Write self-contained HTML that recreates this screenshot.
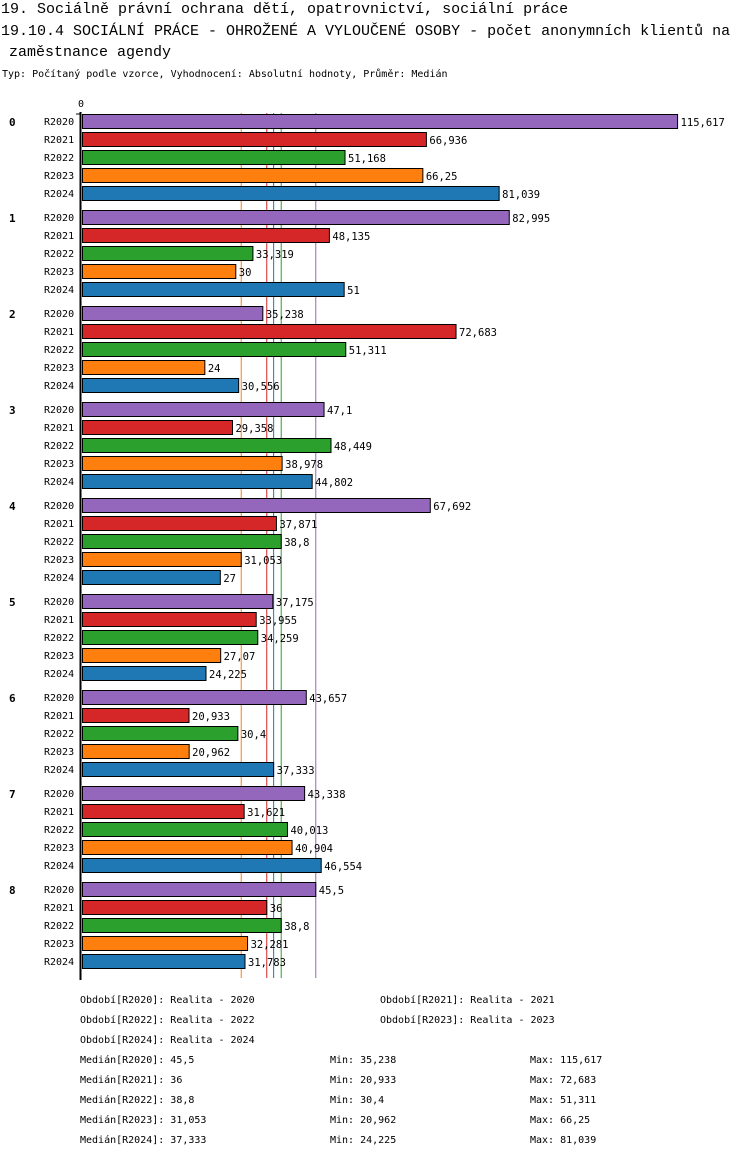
<!DOCTYPE html>
<html><head><meta charset="utf-8"><style>
body{margin:0;background:#fff;width:750px;height:1158px;overflow:hidden;font-family:"DejaVu Sans Mono","Liberation Mono",monospace;}
svg text{font-family:"DejaVu Sans Mono","Liberation Mono",monospace;}
svg text.ttl{font-family:"Liberation Mono","DejaVu Sans Mono",monospace;}
</style></head><body>
<svg id="chart" width="750" height="1158" xmlns="http://www.w3.org/2000/svg">
<text class="ttl" x="1" y="13" font-size="15">19. Sociálně právní ochrana dětí, opatrovnictví, sociální práce</text>
<text class="ttl" x="1" y="35" font-size="15">19.10.4 SOCIÁLNÍ PRÁCE - OHROŽENÉ A VYLOUČENÉ OSOBY - počet anonymních klientů na</text>
<text class="ttl" x="9" y="56" font-size="15">zaměstnance agendy</text>
<text x="2" y="77" font-size="10">Typ: Počítaný podle vzorce, Vyhodnocení: Absolutní hodnoty, Průměr: Medián</text>
<text x="78" y="107" font-size="10">0</text>
<g id="marks"></g>
<g id="footer" font-size="10"></g>
</svg>
<script>
const groups=["0","1","2","3","4","5","6","7","8"];
const series=["R2020","R2021","R2022","R2023","R2024"];
const colors=["#9467bd","#d62728","#2ca02c","#ff7f0e","#1f77b4"];
const v2020=[115.617,82.995,35.238,47.1,67.692,37.175,43.657,43.338,45.5];
const v2021=[66.936,48.135,72.683,29.358,37.871,33.955,20.933,31.621,36];
const v2022=[51.168,33.319,51.311,48.449,38.8,34.259,30.4,40.013,38.8];
const v2023=[66.25,30,24,38.978,31.053,27.07,20.962,40.904,32.281];
const v2024=[81.039,51,30.556,44.802,27,24.225,37.333,46.554,31.783];
const medians=[45.5,36,38.8,31.053,37.333];
const mins=[35.238,20.933,30.4,20.962,24.225];
const maxs=[115.617,72.683,51.311,66.25,81.039];
const values=[v2020,v2021,v2022,v2023,v2024];
const NS="http://www.w3.org/2000/svg";
const X0=81,SC=5.16,TOP=114,GP=96,BP=18;
const x=v=>X0+v*SC;
const fmt=v=>String(v).replace('.',',');
const g=document.getElementById('marks');
function mk(t,a,txt){const e=document.createElementNS(NS,t);for(const k in a)e.setAttribute(k,a[k]);if(txt!==undefined)e.textContent=txt;return e;}
const medOrder=[3,1,4,2,0];
medOrder.forEach(s=>{const l=mk('line',{x1:x(medians[s]),x2:x(medians[s]),y1:TOP-1,y2:978,stroke:colors[s],'stroke-width':1});


g.appendChild(l);});
groups.forEach((gn,i)=>{
 const gy=TOP+i*GP;
 const gl=mk('text',{x:9,y:gy+12,'font-size':11,'font-weight':'bold'},gn);
 
 
 g.appendChild(gl);
 series.forEach((s,j)=>{
  const y=gy+j*BP,v=values[j][i];
  const sl=mk('text',{x:44,y:y+11,'font-size':10},s);
  
  
  g.appendChild(sl);
  const r=mk('rect',{x:X0+1.5,y:y+0.5,width:Math.max(0,x(v)-X0-1.5),height:14,fill:colors[j],stroke:'#000','stroke-width':1});
  
  
  g.appendChild(r);
  const t=mk('text',{x:x(v)+3,y:y+12,'font-size':10.5},fmt(v));
  
  
  g.appendChild(t);
 });
});
const ax=mk('line',{x1:80.5,x2:80.5,y1:TOP-2,y2:980,stroke:'#000','stroke-width':2});


g.appendChild(ax);
const tk=mk('line',{x1:76,x2:81,y1:TOP,y2:TOP,stroke:'#000','stroke-width':1});


g.appendChild(tk);
const f=document.getElementById('footer');
function ft(xx,yy,s,n){const t=mk('text',{x:xx,y:yy},s);


f.appendChild(t);}
ft(80,1003,'Období[R2020]: Realita - 2020','legend-entry');
ft(380,1003,'Období[R2021]: Realita - 2021','legend-entry');
ft(80,1023,'Období[R2022]: Realita - 2022','legend-entry');
ft(380,1023,'Období[R2023]: Realita - 2023','legend-entry');
ft(80,1043,'Období[R2024]: Realita - 2024','legend-entry');
series.forEach((s,j)=>{const yy=1063+j*20;
ft(80,yy,'Medián['+s+']: '+fmt(medians[j]),'median-stat');
ft(330,yy,'Min: '+fmt(mins[j]),'min-stat');
ft(530,yy,'Max: '+fmt(maxs[j]),'max-stat');});
</script>
</body></html>
